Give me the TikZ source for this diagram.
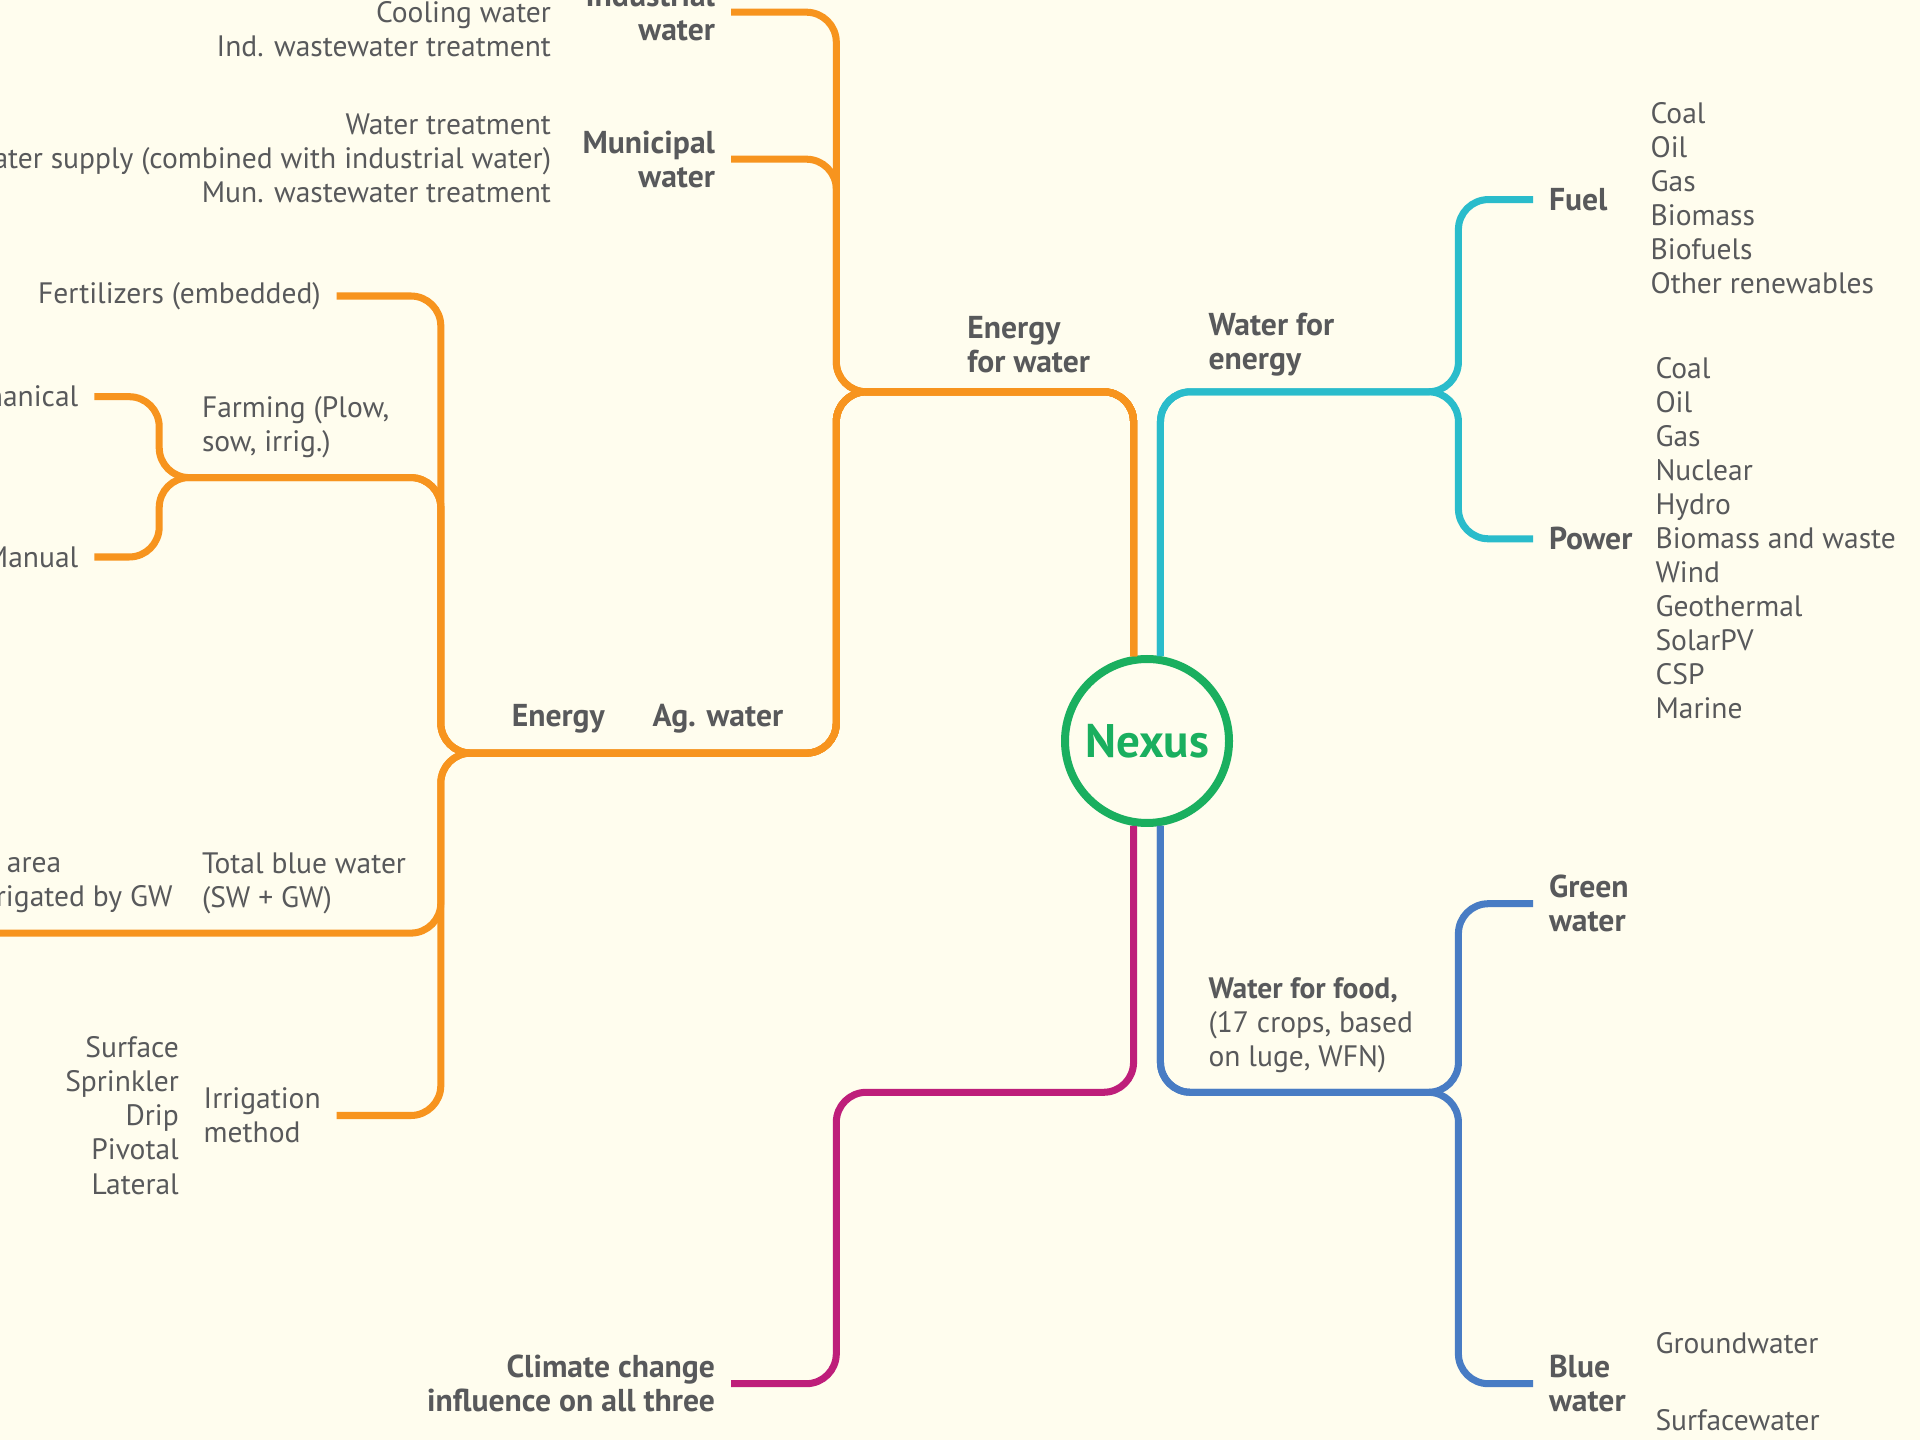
\documentclass[tikz,border=0pt]{standalone}
\usepackage{fontspec}
\setmainfont{PT Sans}

\definecolor{bgcream}{RGB}{255,253,238}
\definecolor{nxgreen}{RGB}{26,175,95}
\definecolor{eworange}{RGB}{247,148,30}
\definecolor{wfecyan}{RGB}{42,188,203}
\definecolor{wffblue}{RGB}{72,124,196}
\definecolor{ccmag}{RGB}{190,30,122}
\definecolor{txtgray}{RGB}{88,89,91}

\begin{document}
\begin{tikzpicture}[
    branch/.style={line width=2pt, rounded corners=0.3cm},
    lbl/.style={text=txtgray, font=\fontsize{8.4}{9.7}\selectfont, inner sep=0pt, outer sep=0pt},
    head/.style={lbl, font=\fontsize{9}{9.7}\selectfont\bfseries},
    stub/.style={inner xsep=0.16cm}
  ]

  \useasboundingbox (0,0) rectangle (19.2,14.4);
  \fill[bgcream] (0,0) rectangle (19.2,14.4);
  \clip (0,0) rectangle (19.2,14.4);

  % centre
  \node[circle, draw=nxgreen, line width=0.08cm, minimum size=1.64cm, inner sep=0pt,
        text=nxgreen, font=\fontsize{13.4}{15}\selectfont\bfseries] (nexus) at (11.47,6.99) {Nexus};

  % water for energy
  \node[head, anchor=west, align=left] (wfe) at (12.086,10.95) {Water for\\energy};
  \node[head, stub, anchor=west] (fuel) at (15.33,12.404) {Fuel};
  \node[head, stub, anchor=west] (power) at (15.33,9.012) {Power};
  \node[lbl, anchor=west, align=left] (fuellist) at (16.506,12.416)
    {Coal\\Oil\\Gas\\Biomass\\Biofuels\\Other renewables};
  \node[lbl, anchor=west, align=left] (powerlist) at (16.555,9.018)
    {Coal\\Oil\\Gas\\Nuclear\\Hydro\\Biomass and waste\\Wind\\Geothermal\\SolarPV\\CSP\\Marine};

  % water for food
  \node[lbl, anchor=west, align=left] (wff) at (12.086,4.15)
    {\textbf{Water for food,}\\(17 crops, based\\on luge, WFN)};
  \node[head, stub, anchor=west, align=left] (green) at (15.33,5.363) {Green\\water};
  \node[head, stub, anchor=west, align=left] (bluew) at (15.33,0.563) {Blue\\water};
  \node[lbl, anchor=west] (gwlist) at (16.555,0.967) {Groundwater};
  \node[lbl, anchor=west] (swlist) at (16.555,0.196) {Surfacewater};

  % energy for water, top
  \node[head, anchor=west, align=left] (efw) at (9.674,10.95) {Energy\\for water};
  \node[head, stub, anchor=east, align=right] (industrial) at (7.31,14.278) {Industrial\\water};
  \node[head, stub, anchor=east, align=right] (municipal) at (7.31,12.808) {Municipal\\water};
  \node[lbl, anchor=east, align=right] (indlist) at (5.51,14.112)
    {Cooling water\\Ind. wastewater treatment};
  \node[lbl, anchor=east, align=right] (munlist) at (5.51,12.82)
    {Water treatment\\Water supply (combined with industrial water)\\Mun. wastewater treatment};

  % agricultural water
  \node[head, anchor=west] (agenergy) at (5.118,7.21) {Energy};
  \node[head, anchor=west] (agwater) at (6.527,7.21) {Ag. water};
  \node[lbl, stub, anchor=east] (fert) at (3.367,11.44) {Fertilizers (embedded)};
  \node[lbl, anchor=west, align=left] (farming) at (2.02,10.125) {Farming (Plow,\\sow, irrig.)};
  \node[lbl, stub, anchor=east] (mech) at (0.943,10.433) {Mechanical};
  \node[lbl, stub, anchor=east] (manual) at (0.943,8.83) {Manual};
  \node[lbl, anchor=west, align=left] (totalblue) at (2.02,5.57) {Total blue water\\(SW + GW)};
  \node[lbl, anchor=west] (gwarea) at (0.07,5.75) {area};
  \node[lbl, anchor=west] (gwirr) at (-0.22,5.405) {irrigated by GW};
  \node[lbl, stub, anchor=east, align=left] (irrig) at (3.367,3.245) {Irrigation\\method};
  \node[lbl, anchor=east, align=right] (irriglist) at (1.788,3.245)
    {Surface\\Sprinkler\\Drip\\Pivotal\\Lateral};

  % climate
  \node[head, stub, anchor=east, align=right] (climate) at (7.31,0.563)
    {Climate change\\influence on all three};

  % junctions
  \coordinate (ewj) at (8.363,10.482);
  \coordinate (wej) at (14.584,10.482);
  \coordinate (agj) at (4.408,6.869);
  \coordinate (farmj) at (1.592,9.624);
  \coordinate (wfj) at (14.584,3.477);
  \coordinate (ccj) at (8.363,3.477);
  \coordinate (tbend) at (-0.2,5.069);

  % orange tree
  \draw[branch, eworange] (industrial.east) -| (ewj) -| (nexus.99);
  \draw[branch, eworange] (municipal.east) -| (ewj) -| (nexus.99);
  \draw[branch, eworange] (fert.east) -| (agj) -| (ewj) -| (nexus.99);
  \draw[branch, eworange] (mech.east) -| (farmj) -| (agj) -| (ewj) -| (nexus.99);
  \draw[branch, eworange] (manual.east) -| (farmj) -| (agj) -| (ewj) -| (nexus.99);
  \draw[branch, eworange] (tbend) -| (agj) -| (ewj) -| (nexus.99);
  \draw[branch, eworange] (irrig.east) -| (agj) -| (ewj) -| (nexus.99);

  % cyan tree
  \draw[branch, wfecyan] (fuel.west) -| (wej) -| (nexus.81);
  \draw[branch, wfecyan] (power.west) -| (wej) -| (nexus.81);

  % blue tree
  \draw[branch, wffblue] (green.west) -| (wfj) -| (nexus.279);
  \draw[branch, wffblue] (bluew.west) -| (wfj) -| (nexus.279);

  % magenta
  \draw[branch, ccmag] (climate.east) -| (ccj) -| (nexus.261);

\end{tikzpicture}
\end{document}
